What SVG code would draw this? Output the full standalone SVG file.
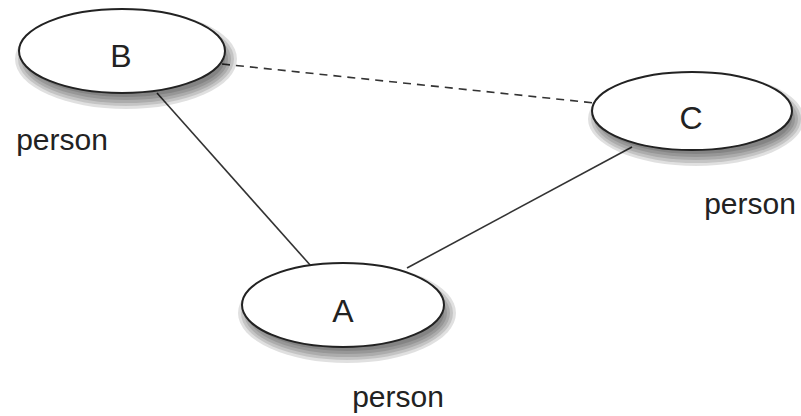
<svg xmlns="http://www.w3.org/2000/svg" width="801" height="416" viewBox="0 0 801 416">
<style>
.node{fill:#fff;stroke:#222;stroke-width:2}
.sh{fill:#000;fill-opacity:0.12}
.lbl{font-family:"Liberation Sans",Arial,sans-serif;font-size:32px;fill:#222;text-anchor:middle}
.cap{font-family:"Liberation Sans",Arial,sans-serif;font-size:30px;fill:#222;text-anchor:middle}
.edge{stroke:#333;stroke-width:1.6;fill:none}
.dash{stroke-dasharray:8,6}
</style>
<rect width="801" height="416" fill="#fff"/>
<g id="connectors">
<line class="edge" x1="157" y1="93" x2="311" y2="266"/>
<line class="edge" x1="407" y1="268" x2="632" y2="147"/>
<line class="edge dash" x1="222" y1="64" x2="595" y2="103"/>
</g>
<g id="B">
<g transform="translate(126 59)">
<ellipse class="sh" rx="111" ry="50"/>
<ellipse class="sh" rx="108" ry="47"/>
<ellipse class="sh" rx="105" ry="44"/>
<ellipse class="sh" rx="102" ry="41"/>
<ellipse class="sh" rx="99" ry="38"/>
</g>
<ellipse class="node" cx="122" cy="51" rx="103" ry="42"/>
<text class="lbl" x="121" y="67">B</text>
<text class="cap" x="62" y="150">person</text>
</g>
<g id="C">
<g transform="translate(696 119)">
<ellipse class="sh" rx="108" ry="47"/>
<ellipse class="sh" rx="105" ry="44"/>
<ellipse class="sh" rx="102" ry="41"/>
<ellipse class="sh" rx="99" ry="38"/>
<ellipse class="sh" rx="96" ry="35"/>
</g>
<ellipse class="node" cx="692" cy="111" rx="100" ry="39"/>
<text class="lbl" x="691" y="129">C</text>
<text class="cap" x="750" y="214">person</text>
</g>
<g id="A">
<g transform="translate(347 313)">
<ellipse class="sh" rx="109" ry="50"/>
<ellipse class="sh" rx="106" ry="47"/>
<ellipse class="sh" rx="103" ry="44"/>
<ellipse class="sh" rx="100" ry="41"/>
<ellipse class="sh" rx="97" ry="38"/>
</g>
<ellipse class="node" cx="343" cy="305" rx="101" ry="42"/>
<text class="lbl" x="343" y="322">A</text>
<text class="cap" x="398" y="407">person</text>
</g>
</svg>
